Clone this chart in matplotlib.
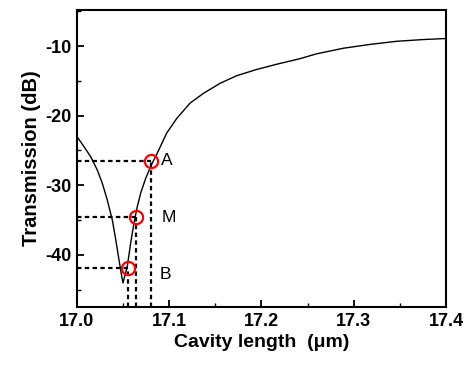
import numpy as np
import matplotlib
matplotlib.use("Agg")
import matplotlib.pyplot as plt

plt.rcParams['font.family'] = ['Liberation Sans', 'DejaVu Sans']

# Curve
length_um = [17.0000, 17.0076, 17.0149, 17.0220, 17.0274, 17.0328, 17.0383,
             17.0420, 17.0455, 17.0485, 17.0499, 17.0517, 17.0545, 17.0582,
             17.0618, 17.0654, 17.0691, 17.0745, 17.0805, 17.0870, 17.0972,
             17.1081, 17.1225, 17.1369, 17.1550, 17.1731, 17.1948, 17.2165,
             17.2417, 17.2598, 17.2887, 17.3176, 17.3466, 17.3754, 17.4000]
trans_db = [-23.0, -24.45, -25.9, -27.8, -29.7, -32.1, -35.0,
            -37.8, -40.7, -43.1, -44.05, -43.1, -41.7, -38.3,
            -35.4, -33.05, -31.1, -29.0, -27.1, -25.4, -22.5,
            -20.4, -18.2, -16.8, -15.35, -14.25, -13.35, -12.6,
            -11.8, -11.1, -10.3, -9.75, -9.3, -9.05, -8.9]

# Marked points
point_names = ["A", "M", "B"]
point_x = [17.0805, 17.0636, 17.0553]
point_y = [-26.5, -34.5, -41.9]
label_x = [17.0915, 17.0915, 17.0895]
label_y = [-26.5, -34.6, -42.8]

fig = plt.figure(figsize=(4.68, 3.67), dpi=100)
ax = fig.add_axes([0.1645, 0.1635, 0.7885, 0.8093])

ax.plot(length_um, trans_db, color='black', lw=1.0, zorder=3)

ymin, ymax = -47.5, -4.8
for px, py in zip(point_x, point_y):
    ax.plot([17.0, px], [py, py], color='black', lw=1.6, ls=(0, (2.0, 1.5)), zorder=2)
    ax.plot([px, px], [ymin, py], color='black', lw=1.6, ls=(0, (2.0, 1.5)), zorder=2)
    ax.plot(px, py, 'o', ms=9.5, mfc='none', mec='red', mew=1.6, zorder=4)

for name, lx, ly in zip(point_names, label_x, label_y):
    ax.text(lx, ly, name, fontsize=12.5, va='center', ha='left')

ax.set_xlim(17.0, 17.4)
ax.set_ylim(ymin, ymax)
ax.set_xticks([17.0, 17.1, 17.2, 17.3, 17.4])
ax.set_xticks([17.05, 17.15, 17.25, 17.35], minor=True)
ax.set_yticks([-40, -30, -20, -10])
ax.set_yticks([-45, -35, -25, -15, -5], minor=True)
ax.set_xticklabels(["17.0", "17.1", "17.2", "17.3", "17.4"], fontsize=13, fontweight='bold')
ax.set_yticklabels(["-40", "-30", "-20", "-10"], fontsize=13, fontweight='bold')
ax.tick_params(which='major', direction='in', length=5, width=1.3, pad=4)
ax.tick_params(which='minor', direction='in', length=3, width=1.0)
for s in ax.spines.values():
    s.set_linewidth(1.5)

ax.set_xlabel("Cavity length  (\u03bcm)", fontsize=14, fontweight='bold', labelpad=3)
ax.set_ylabel("Transmission (dB)", fontsize=14.5, fontweight='bold', labelpad=3)

fig.savefig("out.png", dpi=100)
